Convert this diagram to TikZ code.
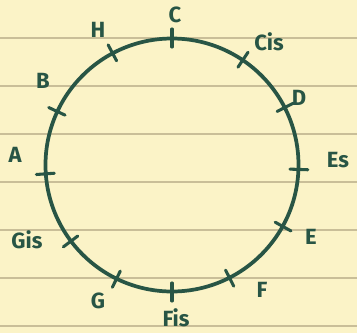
\documentclass[tikz,border=0pt]{standalone}
\usepackage{fontspec}
\setmainfont{Fira Sans}
\definecolor{paper}{HTML}{FBF3C7}
\definecolor{rule}{HTML}{C9BE98}
\definecolor{ink}{HTML}{285545}
\begin{document}
\begin{tikzpicture}[x=0.75pt,y=-0.75pt,
  ring/.style={draw=ink, line width=2.8pt, circle, minimum size=253*0.75pt, inner sep=0pt},
  tick/.style={draw=ink, line width=2.3pt, line cap=round},
  note/.style={text=ink, font=\fontsize{16.5}{16.5}\selectfont\bfseries, inner sep=0pt}]
\fill[paper] (0,0) rectangle (357,333);
\useasboundingbox (0,0) rectangle (357,333);
\foreach \y in {38,86,134,182,230,278,326}
  \draw[rule, line width=1.6pt] (0,\y) -- (357,\y);
\node[ring] (ring) at (172,165) {};
\foreach \a in {90,63,29,2,-27,-56,-90,-118,-155,176,143,116}
  \draw[tick, shift={(ring.center)}] (\a:118) -- (\a:136);
\node[note] (C) at (175,15) {C};
\node[note] (Cis) at (269,42) {Cis};
\node[note] (D) at (299,98) {D};
\node[note] (Es) at (338,160) {Es};
\node[note] (E) at (311,237) {E};
\node[note] (F) at (262,290) {F};
\node[note] (Fis) at (176,318) {Fis};
\node[note] (G) at (98,301) {G};
\node[note] (Gis) at (27,240) {Gis};
\node[note] (A) at (15,155) {A};
\node[note] (B) at (43,81) {B};
\node[note] (H) at (98,30) {H};
\end{tikzpicture}
\end{document}
